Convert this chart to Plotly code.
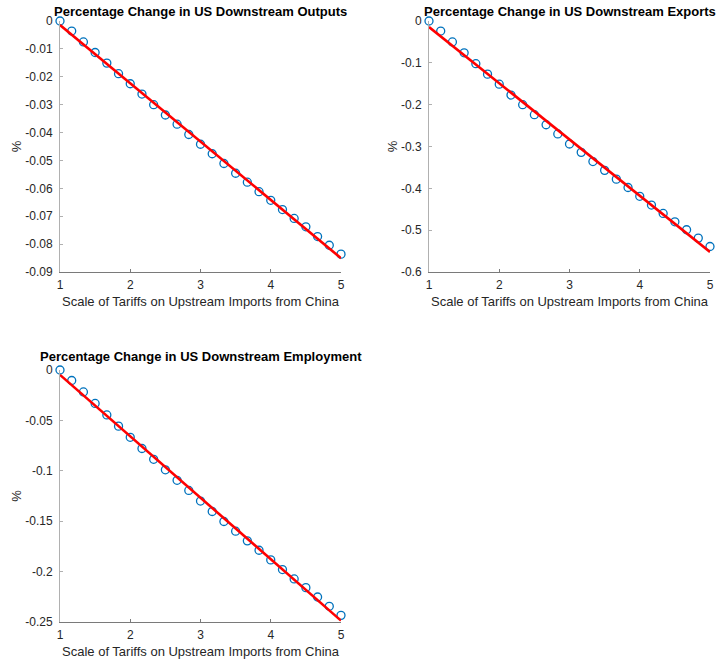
import numpy as np
import plotly.graph_objects as go

# ---------------- data ----------------
tariff_scale = [1.0, 1.1667, 1.3333, 1.5, 1.6667, 1.8333, 2.0, 2.1667, 2.3333, 2.5,
                2.6667, 2.8333, 3.0, 3.1667, 3.3333, 3.5, 3.6667, 3.8333, 4.0, 4.1667,
                4.3333, 4.5, 4.6667, 4.8333, 5.0]

outputs_pct = [0.0, -0.0036, -0.0075, -0.0113, -0.0151, -0.0189, -0.0225, -0.0262, -0.0300,
               -0.0337, -0.0370, -0.0407, -0.0442, -0.0476, -0.0511, -0.0546, -0.0578,
               -0.0612, -0.0643, -0.0676, -0.0708, -0.0738, -0.0773, -0.0804, -0.0836]

exports_pct = [0.0, -0.024, -0.050, -0.076, -0.102, -0.127, -0.151, -0.177, -0.200, -0.224,
               -0.248, -0.270, -0.294, -0.314, -0.336, -0.357, -0.378, -0.398, -0.419,
               -0.440, -0.460, -0.480, -0.499, -0.519, -0.539]

employment_pct = [0.0, -0.0104, -0.0218, -0.0332, -0.0446, -0.0557, -0.0668, -0.0779, -0.0886,
                  -0.0990, -0.1094, -0.1195, -0.1300, -0.1404, -0.1503, -0.1599, -0.1695,
                  -0.1788, -0.1884, -0.1980, -0.2073, -0.2159, -0.2252, -0.2344, -0.2434]

titles = ["Percentage Change in US Downstream Outputs",
          "Percentage Change in US Downstream Exports",
          "Percentage Change in US Downstream Employment"]
x_label = "Scale of Tariffs on Upstream Imports from China"
y_label = "%"

x_tickvals = [1, 2, 3, 4, 5]
x_ticktext = ["1", "2", "3", "4", "5"]

outputs_tickvals = [0, -0.01, -0.02, -0.03, -0.04, -0.05, -0.06, -0.07, -0.08, -0.09]
outputs_ticktext = ["0", "-0.01", "-0.02", "-0.03", "-0.04", "-0.05", "-0.06", "-0.07", "-0.08", "-0.09"]
exports_tickvals = [0, -0.1, -0.2, -0.3, -0.4, -0.5, -0.6]
exports_ticktext = ["0", "-0.1", "-0.2", "-0.3", "-0.4", "-0.5", "-0.6"]
employment_tickvals = [0, -0.05, -0.1, -0.15, -0.2, -0.25]
employment_ticktext = ["0", "-0.05", "-0.1", "-0.15", "-0.2", "-0.25"]

# ---------------- figure ----------------
W, H = 717, 662
FONT = "Liberation Sans, Arial, Helvetica, sans-serif"
TXT = "#262626"

def px_dom_x(a, b):
    return [a / W, b / W]

def px_dom_y(top, bottom):
    return [1 - bottom / H, 1 - top / H]

panels = [
    dict(y=outputs_pct, xd=px_dom_x(60, 341), yd=px_dom_y(21, 272), tv=outputs_tickvals,
         tt=outputs_ticktext, rng=[-0.09, 0], tshift=0),
    dict(y=exports_pct, xd=px_dom_x(429, 710), yd=px_dom_y(21, 272), tv=exports_tickvals,
         tt=exports_ticktext, rng=[-0.6, 0], tshift=0),
    dict(y=employment_pct, xd=px_dom_x(60, 341), yd=px_dom_y(370, 622), tv=employment_tickvals,
         tt=employment_ticktext, rng=[-0.25, 0], tshift=4),
]

fig = go.Figure()
layout = dict(
    width=W, height=H, autosize=False,
    margin=dict(l=0, r=0, t=0, b=0, pad=0, autoexpand=False),
    paper_bgcolor="white", plot_bgcolor="white",
    showlegend=False,
    font=dict(family=FONT, size=12, color=TXT),
    annotations=[],
)

x = np.array(tariff_scale)
for i, p in enumerate(panels):
    n = "" if i == 0 else str(i + 1)
    xa, ya = "x" + n, "y" + n
    y = np.array(p["y"])
    slope, intercept = np.polyfit(x, y, 1)
    fit = slope * x + intercept
    fig.add_trace(go.Scatter(x=x, y=y, mode="markers", xaxis=xa, yaxis=ya,
                             cliponaxis=False,
                             marker=dict(symbol="circle-open", size=8, color="#0072BD",
                                         line=dict(width=1.3, color="#0072BD"))))
    fig.add_trace(go.Scatter(x=[x[0], x[-1]], y=[fit[0], fit[-1]], mode="lines",
                             xaxis=xa, yaxis=ya, cliponaxis=False,
                             line=dict(color="#FF0000", width=2.6)))
    layout["xaxis" + n] = dict(
        domain=p["xd"], anchor=ya, range=[1, 5], tickvals=x_tickvals, ticktext=x_ticktext,
        automargin=False,
        showline=True, linecolor="#7a7a7a", linewidth=1, ticks="inside", ticklen=3,
        tickcolor="#7a7a7a", showgrid=False, zeroline=False, ticklabelstandoff=2,
        tickfont=dict(size=12, color=TXT),
        title=dict(text=x_label, font=dict(size=13, color=TXT), standoff=5),
    )
    layout["yaxis" + n] = dict(
        domain=p["yd"], anchor=xa, range=p["rng"], tickvals=p["tv"], ticktext=p["tt"],
        automargin=False,
        showline=True, linecolor="#b0b0b0", linewidth=1, ticks="inside", ticklen=3,
        tickcolor="#b0b0b0", showgrid=False, zeroline=False, ticklabelstandoff=4,
        tickfont=dict(size=12, color=TXT),
        title=dict(text=y_label, font=dict(size=13, color=TXT), standoff=0),
    )
    layout["annotations"].append(dict(
        text="<b>" + titles[i] + "</b>", xref="paper", yref="paper",
        x=(p["xd"][0] + p["xd"][1]) / 2, y=p["yd"][1], xanchor="center", yanchor="bottom",
        yshift=p["tshift"], showarrow=False, font=dict(size=13, color="black", family=FONT),
    ))

fig.update_layout(**layout)
fig.write_html("out.html", config={"displayModeBar": False},
               post_script="document.body.style.margin='0';document.body.style.overflow='hidden';")
